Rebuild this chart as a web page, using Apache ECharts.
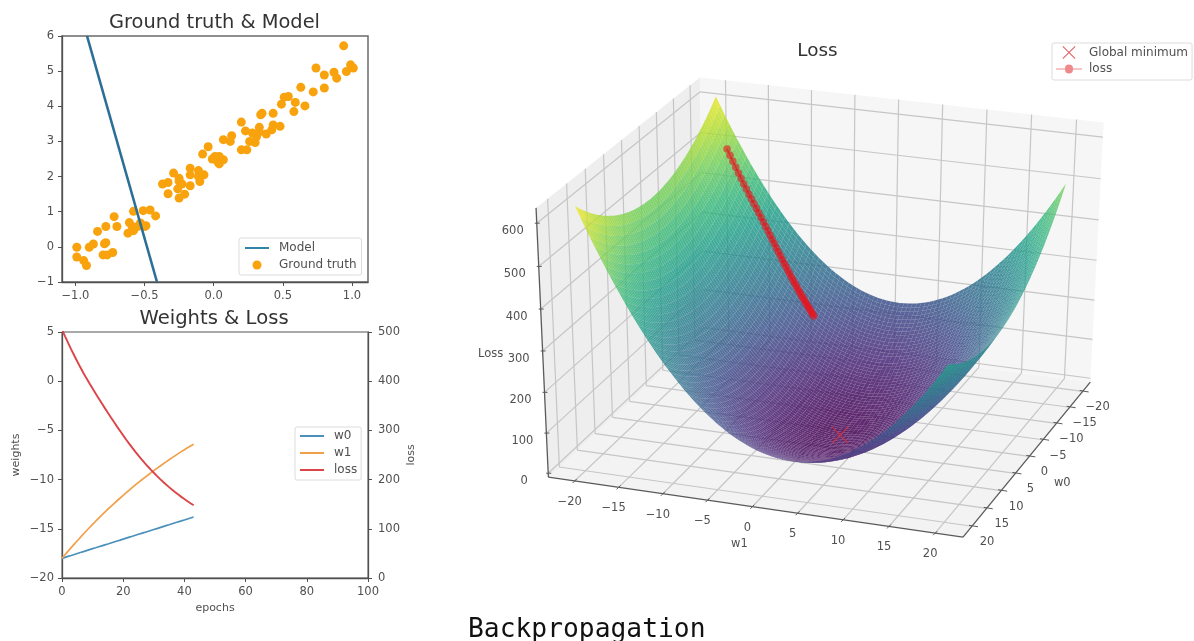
<!DOCTYPE html>
<html><head><meta charset="utf-8">
<style>html,body{margin:0;padding:0;background:#fff}#c{width:1194px;height:641px;filter:blur(0.5px)}</style>
<script src="https://cdn.jsdelivr.net/npm/echarts@6/dist/echarts.min.js"></script>
</head><body><div id="c"></div>
<script>
// ---------- data ----------
const truthX=[-0.99,-0.99,-0.94,-0.92,-0.90,-0.87,-0.78,-0.84,-0.78,-0.79,-0.80,-0.77,-0.73,-0.72,-0.70,-0.62,-0.61,-0.59,-0.58,-0.58,-0.55,-0.51,-0.49,-0.46,-0.42,-0.37,-0.33,-0.33,-0.29,-0.26,-0.25,-0.23,-0.25,-0.21,-0.17,-0.17,-0.17,-0.11,-0.10,-0.07,-0.08,-0.04,0.01,0.03,0.04,0.07,0.07,0.12,0.13,0.20,0.24,0.20,0.23,0.26,0.30,0.28,0.33,0.38,0.34,0.35,0.42,0.43,0.48,0.43,0.49,0.51,0.54,0.59,0.58,0.66,0.63,0.72,0.80,0.74,0.80,0.87,0.89,0.94,0.96,0.99,1.01,0.03,-0.01,0.04,0.33,0.31,-0.11,-0.25,-0.53,-0.50];
const truthY=[-0.01,-0.29,-0.39,-0.53,-0.01,0.08,0.58,0.44,0.12,0.09,-0.23,-0.23,-0.16,0.86,0.58,0.39,0.69,0.58,0.46,1.01,0.58,1.03,0.60,1.05,0.88,1.79,1.83,1.51,2.10,1.65,1.95,1.79,1.39,1.50,2.24,1.74,2.05,2.17,1.86,2.05,2.64,2.85,2.57,2.50,2.36,2.48,3.05,3.00,3.16,2.76,2.76,3.55,3.30,3.00,2.97,3.24,3.40,3.21,3.76,3.80,3.33,3.47,3.43,3.80,4.06,4.26,4.28,4.11,3.85,4.01,4.54,4.41,4.52,5.09,4.89,4.97,4.80,5.72,4.99,5.18,5.09,2.42,2.50,2.57,3.27,3.14,2.00,1.87,0.68,0.58];
const modelX=[-0.916,-0.41];
const modelY=[6,-1];
const epochs=[0,1,2,3,4,5,6,7,8,9,10,11,12,13,14,15,16,17,18,19,20,21,22,23,24,25,26,27,28,29,30,31,32,33,34,35,36,37,38,39,40,41,42,43];
const w0=[-18,-17.9,-17.8,-17.71,-17.61,-17.51,-17.41,-17.32,-17.22,-17.12,-17.02,-16.93,-16.83,-16.73,-16.63,-16.54,-16.44,-16.34,-16.24,-16.15,-16.05,-15.95,-15.85,-15.76,-15.66,-15.56,-15.46,-15.37,-15.27,-15.17,-15.07,-14.98,-14.88,-14.78,-14.68,-14.59,-14.49,-14.39,-14.29,-14.2,-14.1,-14,-13.9,-13.8];
const w1=[-18,-17.63,-17.27,-16.91,-16.56,-16.21,-15.87,-15.53,-15.2,-14.87,-14.55,-14.23,-13.92,-13.61,-13.31,-13.01,-12.72,-12.43,-12.15,-11.87,-11.6,-11.33,-11.06,-10.8,-10.54,-10.29,-10.04,-9.8,-9.56,-9.32,-9.09,-8.86,-8.64,-8.42,-8.2,-7.98,-7.77,-7.56,-7.36,-7.16,-6.96,-6.77,-6.58,-6.4];
const loss=[505,491.2,477.8,464.8,452.2,440,428.2,416.8,405.8,395.2,385,374.9,364.9,355,345.3,335.7,326.2,316.9,307.7,298.7,289.8,281.1,272.7,264.5,256.5,248.8,241.3,234.1,227.1,220.4,213.9,207.6,201.5,195.7,190.1,184.7,179.5,174.5,169.6,164.9,160.4,156,151.8,147.7];
const globalMin=[2.5,2.6,3];            // w1, w0, loss
const topXTicks=[-1,-0.5,0,0.5,1];
const w1Ticks=[-20,-15,-10,-5,0,5,10,15,20];
const w0Ticks=[-20,-15,-10,-5,0,5,10,15,20];
const zTicks=[0,100,200,300,400,500,600];
const viridis=['#440154','#482878','#3e4989','#31688e','#26828e','#1f9e89','#35b779','#6ece58','#b5de2b','#fde725'];

// ---------- 3D camera, calibrated on the box of the reference ----------
const LIM=23, ZMIN=-10, ZMAX=635;
const anchors=[[-LIM,LIM,ZMIN,550,477],[LIM,LIM,ZMIN,963,537],[LIM,-LIM,ZMIN,1090,382],[-LIM,-LIM,ZMIN,702,332],
 [-LIM,LIM,ZMAX,535,208],[-LIM,-LIM,ZMAX,702,77],[LIM,-LIM,ZMAX,1103,123],[0,LIM,ZMIN,752,507],[-20,LIM,ZMIN,575,481],[20,LIM,ZMIN,933,533],
 [LIM,0,ZMIN,1031,456],[LIM,20,ZMIN,973,527],[LIM,-20,ZMIN,1083,391],[-LIM,LIM,300,543,351],[-LIM,LIM,600,536,223]];
function fitCamera(){
  const A=[],b=[];
  anchors.forEach(([x,y,z,u,v])=>{
    A.push([x,y,z,1,0,0,0,0,-u*x,-u*y,-u*z]);b.push(u);
    A.push([0,0,0,0,x,y,z,1,-v*x,-v*y,-v*z]);b.push(v);
  });
  const n=11,M=[];
  for(let i=0;i<n;i++){M.push(new Array(n+1).fill(0));
    for(let j=0;j<n;j++)for(let k=0;k<A.length;k++)M[i][j]+=A[k][i]*A[k][j];
    for(let k=0;k<A.length;k++)M[i][n]+=A[k][i]*b[k];}
  for(let i=0;i<n;i++){let p=i;for(let r=i+1;r<n;r++)if(Math.abs(M[r][i])>Math.abs(M[p][i]))p=r;
    [M[i],M[p]]=[M[p],M[i]];
    for(let r=0;r<n;r++)if(r!==i){const f=M[r][i]/M[i][i];for(let c=i;c<=n;c++)M[r][c]-=f*M[i][c];}}
  return M.map((r,i)=>r[n]/r[i]);
}
const P=fitCamera();
function project(a,c,z){const w=P[8]*a+P[9]*c+P[10]*z+1;
  return [(P[0]*a+P[1]*c+P[2]*z+P[3])/w,(P[4]*a+P[5]*c+P[6]*z+P[7])/w];}
function depth(a,c,z){return P[8]*a+P[9]*c+P[10]*z+1;}
const nearSign=depth(LIM,LIM,0)<depth(-LIM,-LIM,0)?1:-1;   // smaller sign*depth = nearer

// ---------- the loss surface is the mean squared error of the ground truth points ----------
const GRID_STEP=0.5, gridVals=[];
for(let v=-20;v<=20;v+=GRID_STEP)gridVals.push(v);
function mse(a,c){let s=0;for(let i=0;i<truthX.length;i++){const e=c*truthX[i]+a-truthY[i];s+=e*e;}return s/truthX.length;}
const surfZ=gridVals.map(a=>gridVals.map(c=>mse(a,c)));
const cells=[];
for(let i=0;i<gridVals.length-1;i++)for(let j=0;j<gridVals.length-1;j++){
  const z=(surfZ[i][j]+surfZ[i+1][j]+surfZ[i][j+1]+surfZ[i+1][j+1])/4;
  cells.push([i,j,z,nearSign*depth((gridVals[i]+gridVals[i+1])/2,(gridVals[j]+gridVals[j+1])/2,z)]);
}
cells.sort((p,q)=>q[3]-p[3]);   // far cells first, near cells last

const minus=v=>String(v).replace('-','\u2212');
const FONT='DejaVu Sans',INK='#505050';
const axisBase={axisLine:{onZero:false,lineStyle:{color:INK,width:1.3}},axisTick:{length:4,lineStyle:{color:INK}},
  splitLine:{show:false},axisLabel:{color:INK,fontFamily:FONT,fontSize:11.5,margin:8,formatter:minus}};

function sceneItem(params,api){
  const pt=(a,c,z)=>api.coord(project(a,c,z));
  const kids=[];
  const poly=(pts,fill)=>kids.push({type:'polygon',shape:{points:pts},style:{fill}});
  const line=(p,q,stroke,w)=>kids.push({type:'line',shape:{x1:p[0],y1:p[1],x2:q[0],y2:q[1]},style:{stroke,lineWidth:w}});
  const txt=(p,dx,dy,text,size)=>kids.push({type:'text',x:p[0]+dx,y:p[1]+dy,style:{text,fill:INK,font:(size||11.5)+'px "'+FONT+'"',align:'center',verticalAlign:'middle'}});
  poly([pt(-LIM,LIM,ZMIN),pt(LIM,LIM,ZMIN),pt(LIM,-LIM,ZMIN),pt(-LIM,-LIM,ZMIN)],'#f3f3f3');
  poly([pt(-LIM,LIM,ZMIN),pt(-LIM,-LIM,ZMIN),pt(-LIM,-LIM,ZMAX),pt(-LIM,LIM,ZMAX)],'#eeeeef');
  poly([pt(-LIM,-LIM,ZMIN),pt(LIM,-LIM,ZMIN),pt(LIM,-LIM,ZMAX),pt(-LIM,-LIM,ZMAX)],'#f6f6f6');
  const G='#c6c6c6';
  w1Ticks.forEach(t=>{line(pt(t,LIM,ZMIN),pt(t,-LIM,ZMIN),G,1.2);line(pt(t,-LIM,ZMIN),pt(t,-LIM,ZMAX),G,1.2);});
  w0Ticks.forEach(t=>{line(pt(-LIM,t,ZMIN),pt(LIM,t,ZMIN),G,1.2);line(pt(-LIM,t,ZMIN),pt(-LIM,t,ZMAX),G,1.2);});
  zTicks.forEach(t=>{line(pt(-LIM,LIM,t),pt(-LIM,-LIM,t),G,1.2);line(pt(-LIM,-LIM,t),pt(LIM,-LIM,t),G,1.2);});
  const K='#5a5a5a';
  line(pt(-LIM,LIM,ZMIN),pt(LIM,LIM,ZMIN),K,1.3);line(pt(LIM,LIM,ZMIN),pt(LIM,-LIM,ZMIN),K,1.3);line(pt(-LIM,LIM,ZMIN),pt(-LIM,LIM,ZMAX),K,1.3);
  w1Ticks.forEach(t=>{const p=pt(t,LIM,ZMIN);line([p[0]-2,p[1]+2],[p[0]+2,p[1]-2],K,1);txt(p,-5,21,minus(t));});
  w0Ticks.forEach(t=>{const p=pt(LIM,t,ZMIN);line([p[0]-3,p[1]-1],[p[0]+6,p[1]+0.5],K,1);txt(p,15,16,minus(t));});
  zTicks.forEach(t=>{const p=pt(-LIM,LIM,t);line([p[0]-2,p[1]],[p[0]+3,p[1]],K,1);txt(p,-24,8,minus(t));});
  txt(pt(0,LIM,ZMIN),-13,37,'w1');
  txt(pt(LIM,0,ZMIN),33,27,'w0');
  txt(pt(-LIM,LIM,300),-52,3,'Loss');
  return {type:'group',children:kids};
}
function cellItem(params,api){
  const i=api.value(0),j=api.value(1);
  const pts=[[i,j],[i+1,j],[i+1,j+1],[i,j+1]].map(([a,c])=>api.coord(project(gridVals[a],gridVals[c],surfZ[a][c])));
  return {type:'polygon',shape:{points:pts},style:{fill:api.visual('color'),opacity:0.84}};
}
const XPATH='path://M0 1L1 0L10 9L19 0L20 1L11 10L20 19L19 20L10 11L1 20L0 19L9 10Z';
const DOTLINE='path://M0 9L9 9A4 4 0 0 1 17 9L26 9L26 10L17 10A4 4 0 0 1 9 10L0 10Z';
const DASH='path://M0 0H24V2H0Z';
const legendBase={orient:'vertical',show:true,itemWidth:24,itemHeight:9,itemGap:5,padding:[4,5,4,6],
  backgroundColor:'rgba(255,255,255,0.85)',borderColor:'#dcdcdc',borderWidth:1,borderRadius:2,
  textStyle:{color:INK,fontFamily:FONT,fontSize:12,padding:[0,0,0,5]},selectedMode:false};

const option={animation:false,backgroundColor:'#fff',
 title:[
  {text:'Ground truth & Model',left:209.5,top:8,textAlign:'center',textStyle:{fontFamily:FONT,fontSize:19.4,fontWeight:'normal',color:'#333'}},
  {text:'Weights & Loss',left:209,top:304,textAlign:'center',textStyle:{fontFamily:FONT,fontSize:19.6,fontWeight:'normal',color:'#333'}},
  {text:'Loss',left:812.5,top:37,textAlign:'center',textStyle:{fontFamily:FONT,fontSize:18.4,fontWeight:'normal',color:'#333'}},
  {text:'Backpropagation',left:463,top:612,textStyle:{fontFamily:'DejaVu Sans Mono',fontSize:26.3,fontWeight:'normal',color:'#111'}}
 ],
 grid:[
  {left:62,top:36,width:306,height:246,show:true,borderColor:'#6a6a6a',borderWidth:1.5,backgroundColor:'transparent'},
  {left:62,top:332,width:306,height:246,show:true,borderColor:'#555',borderWidth:1,backgroundColor:'transparent'},
  {left:0,top:0,width:1194,height:641,show:false}
 ],
 xAxis:[
  {...axisBase,gridIndex:0,type:'value',min:-1.097,max:1.116,
   axisTick:{...axisBase.axisTick,customValues:topXTicks},
   axisLabel:{...axisBase.axisLabel,customValues:topXTicks,formatter:v=>minus(v.toFixed(1))}},
  {...axisBase,gridIndex:1,type:'value',min:0,max:100,interval:20,name:'epochs',nameLocation:'middle',nameGap:25,
   nameTextStyle:{color:INK,fontFamily:FONT,fontSize:11}},
  {gridIndex:2,type:'value',min:0,max:1194,show:false}
 ],
 yAxis:[
  {...axisBase,gridIndex:0,type:'value',min:-1,max:6,interval:1},
  {...axisBase,gridIndex:1,type:'value',min:-20,max:5,interval:5,name:'weights',nameLocation:'middle',nameGap:40,
   nameTextStyle:{color:INK,fontFamily:FONT,fontSize:11}},
  {...axisBase,gridIndex:1,type:'value',position:'right',min:0,max:500,interval:100,name:'loss',nameLocation:'middle',nameGap:38,
   axisLabel:{...axisBase.axisLabel,margin:10},nameTextStyle:{color:INK,fontFamily:FONT,fontSize:11}},
  {gridIndex:2,type:'value',min:0,max:641,inverse:true,show:false}
 ],
 legend:[
  {...legendBase,left:239,top:238,data:[{name:'Model',icon:DASH,itemStyle:{color:'#2f86a8'}},'Ground truth']},
  {...legendBase,left:295,top:427,padding:[3,4,4,5],data:[
    {name:'w0',icon:DASH,itemStyle:{color:'#4a90bb'}},
    {name:'w1',icon:DASH,itemStyle:{color:'#f0a04a'}},
    {name:'loss',icon:DASH,itemStyle:{color:'#dc4448'}}]},
  {...legendBase,left:1052,top:43,padding:[3,4,5,4],itemWidth:26,itemHeight:13,itemGap:4,
   textStyle:{...legendBase.textStyle,padding:[0,0,0,2]},data:[
    {name:'Global minimum',icon:XPATH,itemStyle:{color:'#e4595c',opacity:1}},
    {name:'loss ',icon:DOTLINE,itemStyle:{color:'#ee8a8c',opacity:1}}]}
 ],
 visualMap:[{show:false,seriesIndex:8,dimension:2,min:0,max:630,inRange:{color:viridis}}],
 series:[
  {name:'Model',type:'line',xAxisIndex:0,yAxisIndex:0,showSymbol:false,symbol:'none',z:3,
   lineStyle:{color:'#2b6f96',width:2.6},itemStyle:{color:'#2b6f96'},data:modelX.map((x,i)=>[x,modelY[i]])},
  {name:'Ground truth',type:'scatter',xAxisIndex:0,yAxisIndex:0,symbolSize:9,z:2,
   itemStyle:{color:'#f8a30e',opacity:1},data:truthX.map((x,i)=>[x,truthY[i]])},
  {name:'w0',type:'line',xAxisIndex:1,yAxisIndex:1,symbol:'none',lineStyle:{color:'#4a90bb',width:1.7},itemStyle:{color:'#4a90bb'},data:epochs.map((e,i)=>[e,w0[i]])},
  {name:'w1',type:'line',xAxisIndex:1,yAxisIndex:1,symbol:'none',lineStyle:{color:'#f0a04a',width:1.7},itemStyle:{color:'#f0a04a'},data:epochs.map((e,i)=>[e,w1[i]])},
  {name:'loss',type:'line',xAxisIndex:1,yAxisIndex:2,symbol:'none',lineStyle:{color:'#dc4448',width:1.9},itemStyle:{color:'#dc4448'},data:epochs.map((e,i)=>[e,loss[i]])},
  {name:'Global minimum',type:'scatter',xAxisIndex:2,yAxisIndex:3,symbol:XPATH,symbolSize:17,z:7,clip:false,silent:true,
   itemStyle:{color:'#d9303a',opacity:0.75},data:[project(...globalMin)]},
  {name:'loss ',type:'line',xAxisIndex:2,yAxisIndex:3,symbol:'circle',symbolSize:7.5,z:8,clip:false,silent:true,
   lineStyle:{color:'#e8141c',width:1.5,opacity:0.6},itemStyle:{color:'#e8141c',opacity:0.6},
   data:epochs.map((e,i)=>project(w1[i],w0[i],loss[i]))},
  {name:'box',type:'custom',xAxisIndex:2,yAxisIndex:3,z:1,clip:false,silent:true,renderItem:sceneItem,data:[[0,0]]},
  {name:'surface',type:'custom',xAxisIndex:2,yAxisIndex:3,z:5,clip:false,silent:true,progressive:0,
   dimensions:['i','j','z','d'],renderItem:cellItem,data:cells}
 ]
};
const chart=echarts.init(document.getElementById('c'),null,{width:1194,height:641});
chart.setOption(option);
</script></body></html>
